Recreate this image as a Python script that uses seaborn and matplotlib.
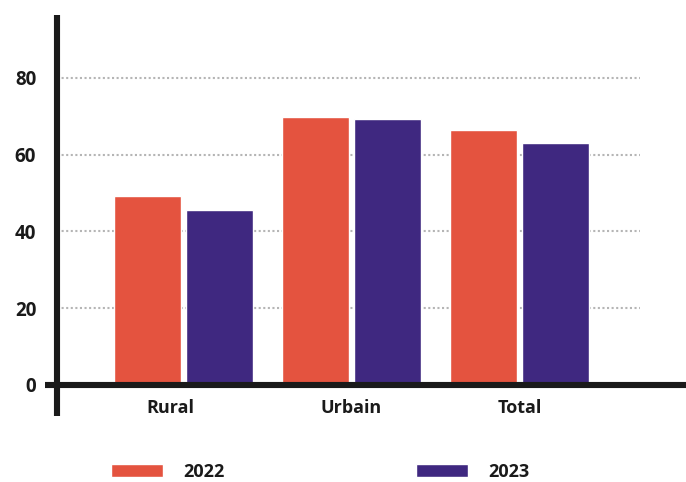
import matplotlib
matplotlib.use("Agg")
import matplotlib.pyplot as plt
from matplotlib.transforms import ScaledTranslation
import seaborn as sns
import pandas as pd

categories = ["Rural", "Urbain", "Total"]
years = ["2022", "2023"]
values_2022 = [49.2, 69.8, 66.4]
values_2023 = [45.6, 69.3, 63.1]
y_ticks = [0, 20, 40, 60, 80]
colors = ["#E4533F", "#3F2880"]

df = pd.DataFrame({
    "cat": categories * 2,
    "year": [years[0]] * 3 + [years[1]] * 3,
    "val": values_2022 + values_2023,
})

sns.set_theme(style="white")
plt.rcParams["font.family"] = ["Open Sans", "DejaVu Sans"]
plt.rcParams["font.weight"] = "bold"

W, H = 686, 482
fig = plt.figure(figsize=(W / 100, H / 100), dpi=100)
ax = fig.add_axes([57 / W, 1 - 384.8 / H, (640 - 57) / W, (384.8 - 15) / H])

sns.barplot(data=df, x="cat", y="val", hue="year", palette=colors,
            width=0.86, gap=0.07, saturation=1, ax=ax, zorder=3)

ax.set_ylim(0, 96.4)
ax.set_xlim(-0.753, 2.717)
ax.set_xlabel("")
ax.set_ylabel("")
for s in ax.spines.values():
    s.set_visible(False)

ax.set_yticks(y_ticks)
ax.set_yticklabels([str(t) for t in y_ticks])
for t in y_ticks[1:]:
    ax.axhline(t, color="#b5b5b5", lw=1.5, ls=(0, (1, 1.2)), zorder=1)

ax.tick_params(axis="y", length=0, pad=15, labelsize=13.5, labelcolor="#1a1a1a")
ax.tick_params(axis="x", length=0, pad=10, labelsize=13, labelcolor="#1a1a1a")
for lab in ax.get_xticklabels() + ax.get_yticklabels():
    lab.set_fontweight("bold")
xl = ax.get_xticklabels()
xl[0].set_transform(xl[0].get_transform() + ScaledTranslation(-0.13, 0, fig.dpi_scale_trans))

# axis lines
ax.plot([0, 0], [-(416 - 384.8) / (384.8 - 15), 1], transform=ax.transAxes,
        color="#1a1a1a", lw=4.4, clip_on=False, zorder=5, solid_capstyle="butt")
ax.plot([(45 - 57) / 583, (686 - 57) / 583], [0, 0], transform=ax.transAxes,
        color="#1a1a1a", lw=4.4, clip_on=False, zorder=5, solid_capstyle="butt")

sns.move_legend(ax, "center left", bbox_to_anchor=(111 / W, 1 - 472 / H),
                bbox_transform=fig.transFigure, ncol=2, frameon=False, title=None,
                fontsize=13, handlelength=2.9, handleheight=0.75, handletextpad=1.1,
                columnspacing=10.6, borderpad=0, borderaxespad=0)
for txt in ax.get_legend().get_texts():
    txt.set_fontweight("bold")
    txt.set_color("#1a1a1a")

fig.savefig("out.png", dpi=100)
